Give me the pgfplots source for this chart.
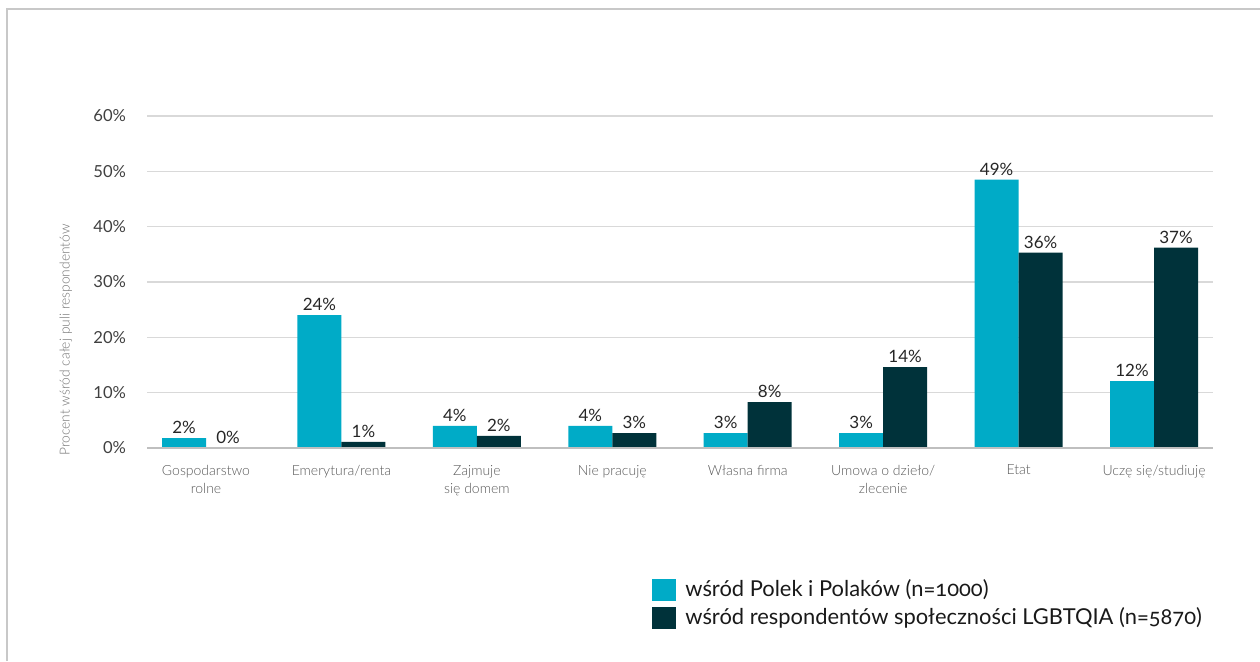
\documentclass[border=0pt]{standalone}
\usepackage{fontspec}
\setmainfont{Lato}
\newfontfamily\lightfont{Lato Light}
\newfontfamily\onumfont[Numbers=OldStyle]{Lato}
\usepackage{pgfplots}
\usepackage{pgfplotstable}
\pgfplotsset{compat=1.18}

\definecolor{lightbar}{RGB}{0,171,199}
\definecolor{darkbar}{RGB}{0,50,58}
\definecolor{gridgray}{RGB}{217,217,217}
\definecolor{basegray}{RGB}{191,191,191}
\definecolor{framegray}{RGB}{200,200,200}
\definecolor{ticktext}{RGB}{64,64,64}
\definecolor{cattext}{RGB}{89,89,89}

% x = category index, y = value (%), lab = printed label
\pgfplotstableread{
x y lab
0 1.8 2
1 24.0 24
2 4.0 4
3 4.0 4
4 2.7 3
5 2.7 3
6 48.5 49
7 12.1 12
}\polacy

\pgfplotstableread{
x y lab
0 0.0 0
1 1.1 1
2 2.2 2
3 2.7 3
4 8.3 8
5 14.6 14
6 35.3 36
7 36.2 37
}\lgbt

\begin{document}
\begin{tikzpicture}
  \useasboundingbox (0,0) rectangle (630pt,330.5pt);
  \draw[framegray, line width=1pt] (3.5pt,0) -- (3.5pt,326pt) -- (630pt,326pt);
  \node[rotate=90, font=\lightfont\fontsize{6.9}{8}\selectfont, text=black!55] at (33pt,160.5pt)
    {Procent wśród całej puli respondentów};
  \begin{axis}[
    at={(73.5pt,106.5pt)}, anchor=south west,
    scale only axis,
    width=533pt, height=166pt,
    xmin=-0.4357, xmax=7.4357,
    ymin=0, ymax=60,
    ybar=0pt, bar width=22pt,
    axis line style={draw=none},
    major tick length=0pt,
    ymajorgrids,
    grid style={gridgray, line width=0.6pt},
    ytick={0,10,...,60},
    yticklabels={0\%,10\%,20\%,30\%,40\%,50\%,60\%},
    yticklabel style={font=\fontsize{8.3}{10}\selectfont, text=ticktext, xshift=-7pt},
    xtick={0,...,7},
    xticklabels={Gospodarstwo\\rolne, Emerytura/renta, Zajmuje\\się domem, Nie pracuję,
      Własna firma, Umowa o dzieło/\\zlecenie, Etat, Uczę się/studiuję},
    xticklabel style={align=center, font=\lightfont\fontsize{7}{9}\selectfont, text=cattext, yshift=-5pt},
    clip=false,
    point meta=explicit symbolic,
    nodes near coords={\pgfplotspointmeta\%},
    every node near coord/.append style={font=\fontsize{8.5}{10}\selectfont, text=black!85, inner sep=2pt},
    legend style={at={(0.4737,-0.383)}, anchor=north west, draw=none, fill=none,
      font=\onumfont\fontsize{10.95}{12}\selectfont, text=black!90, inner sep=0pt,
      row sep=0pt, /tikz/every odd column/.append style={column sep=2.5pt}},
    legend cell align=left,
  ]
  \addplot[fill=lightbar, draw=none,
    legend image code/.code={\fill[lightbar] (0pt,-5.5pt) rectangle (12pt,5.5pt);}]
    table[x=x, y=y, meta=lab] {\polacy};
  \addplot[fill=darkbar, draw=none,
    legend image code/.code={\fill[darkbar] (0pt,-5.5pt) rectangle (12pt,5.5pt);}]
    table[x=x, y=y, meta=lab] {\lgbt};
  \draw[basegray, line width=0.8pt] (axis cs:-0.4357,0) -- (axis cs:7.4357,0);
  \legend{wśród Polek i Polaków (n=1000), wśród respondentów społeczności LGBTQIA (n=5870)}
  \end{axis}
\end{tikzpicture}
\end{document}
